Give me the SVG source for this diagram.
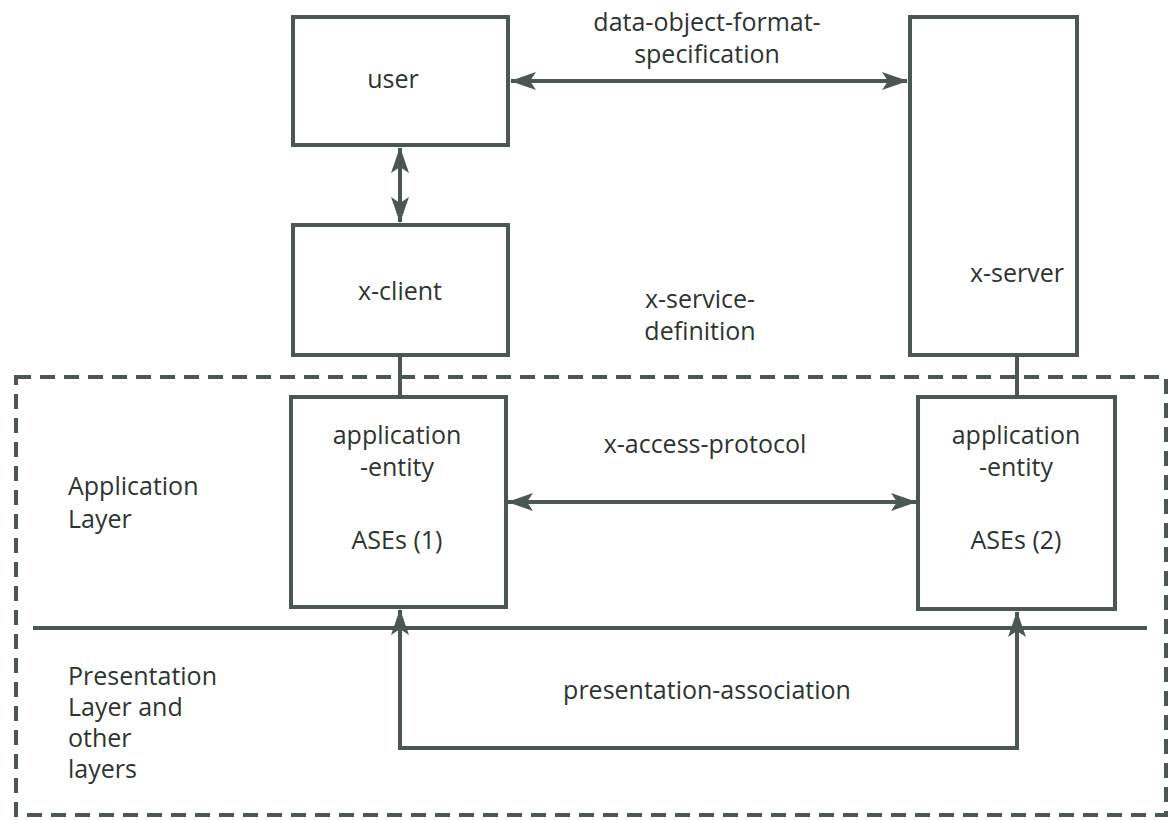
<svg xmlns="http://www.w3.org/2000/svg" width="1170" height="820" viewBox="0 0 1170 820">
<defs>
<style>
.box{fill:#fff;stroke:#4c5652;stroke-width:4}
.ln{fill:none;stroke:#4c5652;stroke-width:4}
.dash{fill:none;stroke:#4c5652;stroke-width:4;stroke-dasharray:15 9}
text{font-family:"Open Sans","Noto Sans","Liberation Sans",sans-serif;font-size:25px;fill:#2e3432}
.c{text-anchor:middle}
</style>
<marker id="ah" viewBox="0 0 26 18" refX="25" refY="9" markerWidth="26" markerHeight="18" markerUnits="userSpaceOnUse" orient="auto-start-reverse">
<path d="M0,0 L26,9 L0,18 L6,9 Z" fill="#4c5652"/>
</marker>
</defs>
<rect width="1170" height="820" fill="#fff"/>
<g id="layers">
<rect class="dash" x="16" y="377" width="1150" height="438"/>
<line class="ln" x1="33" y1="628" x2="1147" y2="628"/>
<text x="68" y="495">Application</text>
<text x="68" y="528">Layer</text>
<text x="68" y="685">Presentation</text>
<text x="68" y="716">Layer and</text>
<text x="68" y="747">other</text>
<text x="68" y="778">layers</text>
</g>
<g id="connectors">
<line class="ln" x1="511" y1="81" x2="907" y2="81" marker-start="url(#ah)" marker-end="url(#ah)"/>
<line class="ln" x1="400" y1="148" x2="400" y2="222" marker-start="url(#ah)" marker-end="url(#ah)"/>
<line class="ln" x1="400" y1="355" x2="400" y2="397"/>
<line class="ln" x1="1017" y1="355" x2="1017" y2="397"/>
<line class="ln" x1="508" y1="502" x2="916" y2="502" marker-start="url(#ah)" marker-end="url(#ah)"/>
<path class="ln" d="M400,610 L400,748 L1017,748 L1017,612" marker-start="url(#ah)" marker-end="url(#ah)"/>
<text class="c" x="707" y="31">data-object-format-</text>
<text class="c" x="707" y="63">specification</text>
<text class="c" x="700" y="308">x-service-</text>
<text class="c" x="700" y="340">definition</text>
<text class="c" x="705" y="453">x-access-protocol</text>
<text class="c" x="707" y="699">presentation-association</text>
</g>
<g id="user">
<rect class="box" x="293" y="17" width="215" height="128"/>
<text class="c" x="393" y="88">user</text>
</g>
<g id="x-client">
<rect class="box" x="293" y="225" width="215" height="130"/>
<text class="c" x="400" y="300">x-client</text>
</g>
<g id="x-server">
<rect class="box" x="910" y="17" width="167" height="338"/>
<text class="c" x="1017" y="282">x-server</text>
</g>
<g id="ae1">
<rect class="box" x="291" y="397" width="215" height="210"/>
<text class="c" x="397" y="444">application</text>
<text class="c" x="397" y="476">-entity</text>
<text class="c" x="397" y="549">ASEs (1)</text>
</g>
<g id="ae2">
<rect class="box" x="918" y="397" width="197" height="212"/>
<text class="c" x="1016" y="444">application</text>
<text class="c" x="1016" y="476">-entity</text>
<text class="c" x="1016" y="549">ASEs (2)</text>
</g>
</svg>
